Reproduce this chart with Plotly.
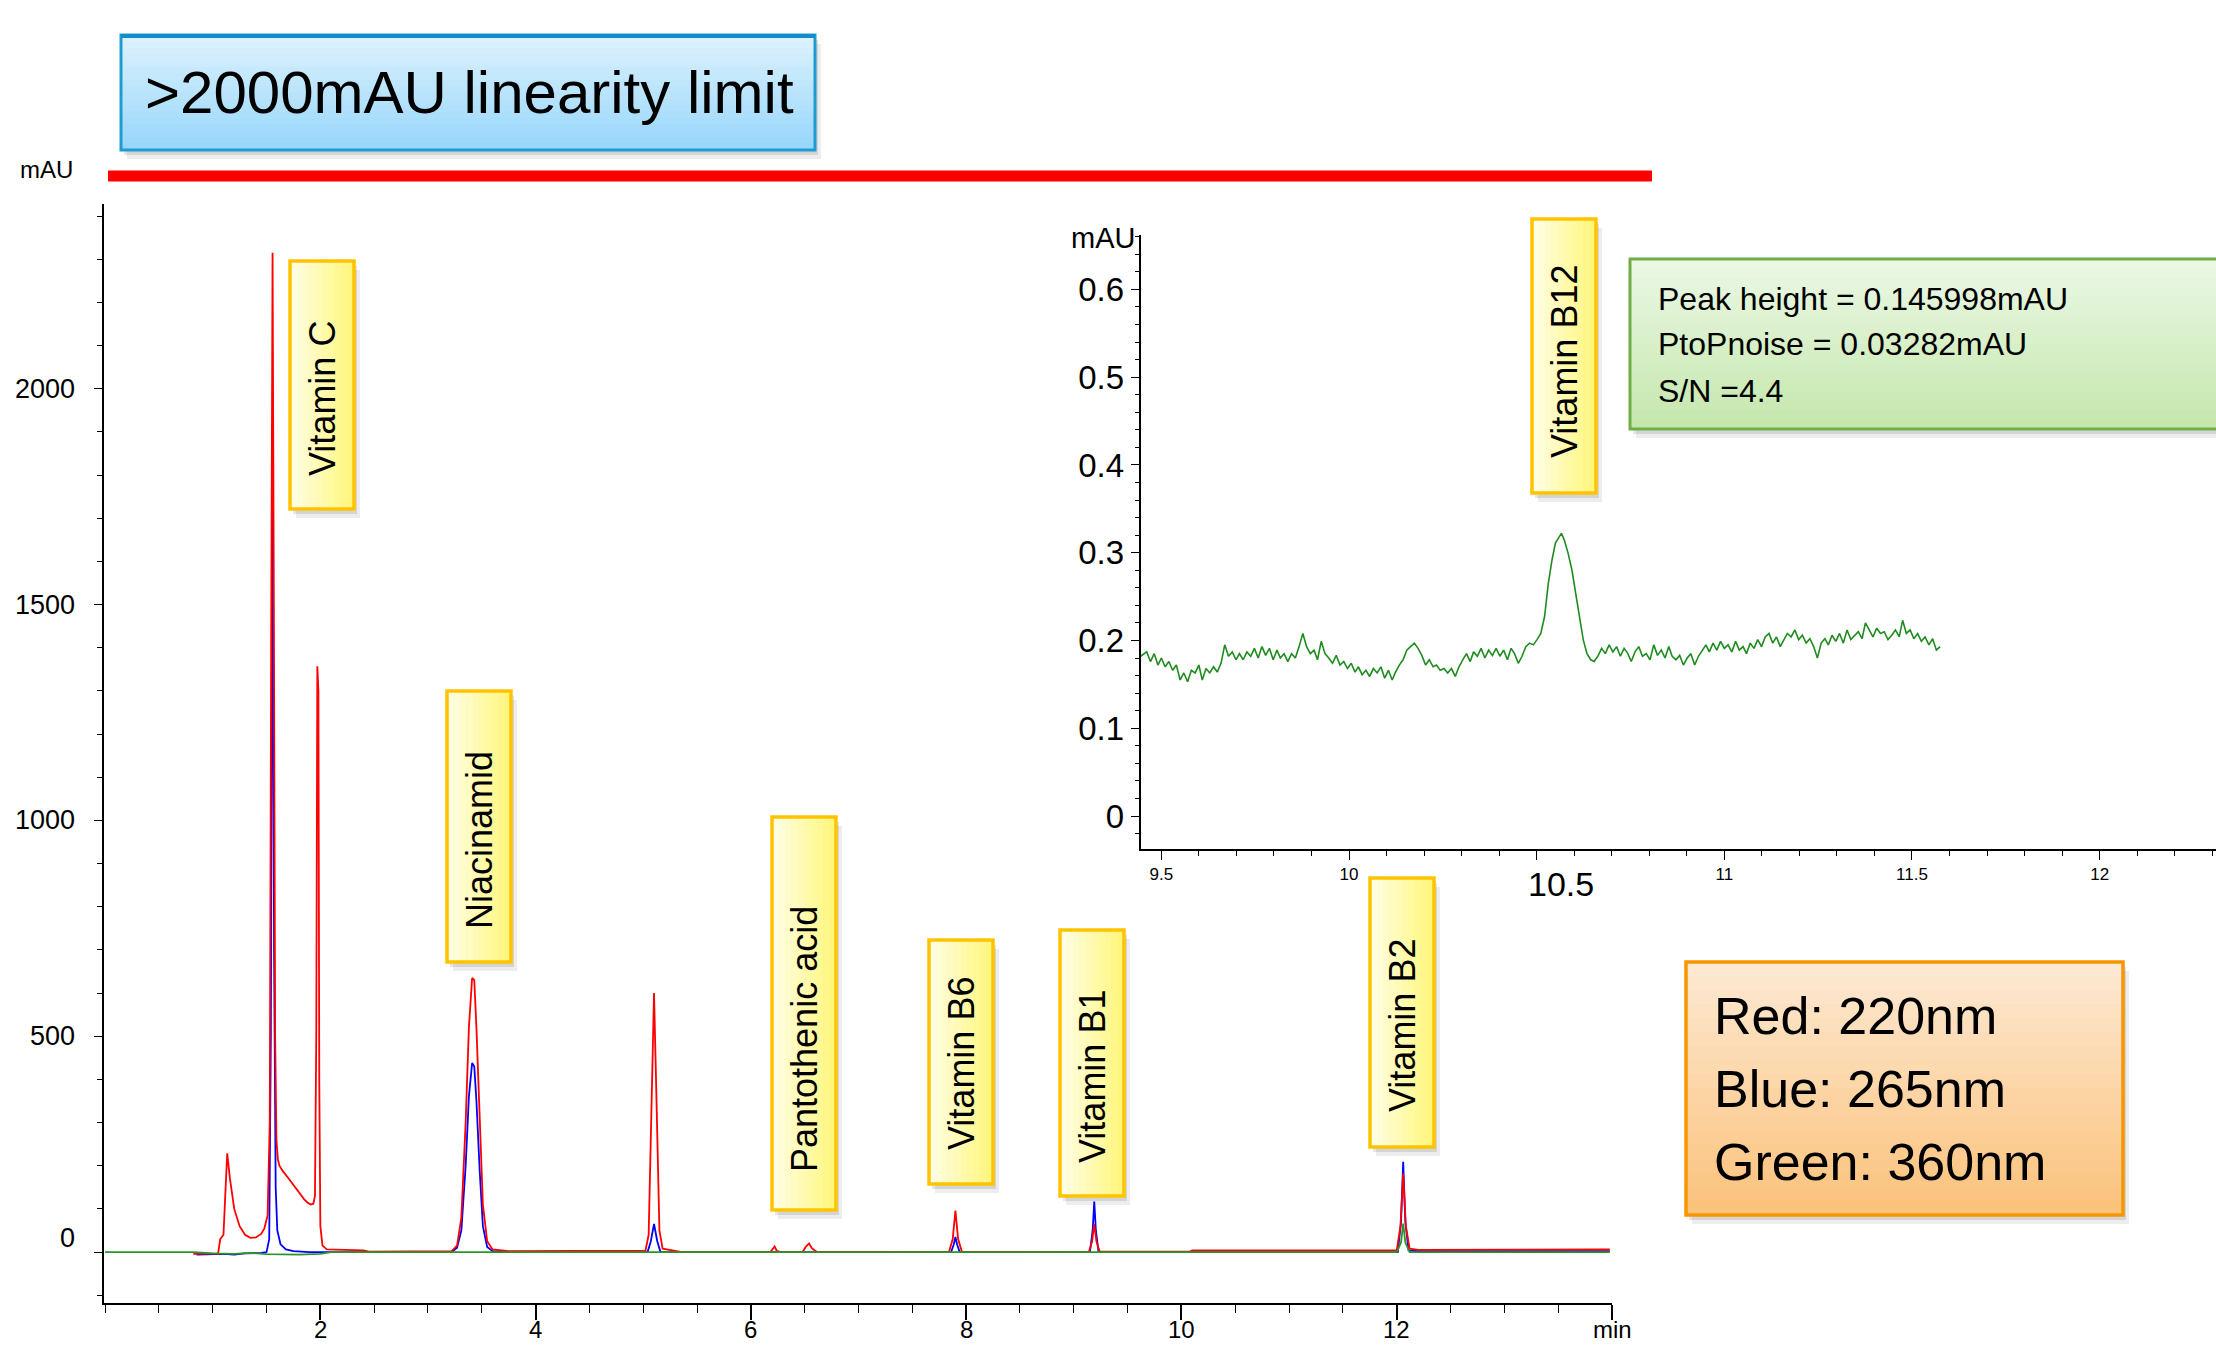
import plotly.graph_objects as go

W, H = 2216, 1345

# ---------------- data ----------------
# Red trace, 220 nm (time in min, absorbance in mAU)
red_t = [0.82, 1.05, 1.07, 1.10, 1.12, 1.135, 1.16, 1.20, 1.25, 1.30, 1.35, 1.40, 1.45, 1.48, 1.51,
         1.53, 1.543, 1.556, 1.568, 1.58, 1.592, 1.605, 1.62, 1.65, 1.70, 1.75, 1.80, 1.85, 1.88,
         1.91, 1.935, 1.95, 1.962, 1.972, 1.982, 1.99, 2.00, 2.02, 2.06, 2.40, 2.45,
         3.22, 3.27, 3.31, 3.35, 3.38, 3.41, 3.43, 3.45, 3.48, 3.51, 3.55, 3.60, 3.75,
         5.02, 5.05, 5.075, 5.10, 5.125, 5.15, 5.18, 5.30, 5.36,
         6.18, 6.20, 6.22, 6.24, 6.28, 6.48, 6.51, 6.54, 6.57, 6.61,
         7.84, 7.875, 7.90, 7.925, 7.96,
         9.14, 9.17, 9.19, 9.21, 9.24, 10.08, 10.10,
         12.00, 12.035, 12.06, 12.085, 12.12, 12.20, 13.98]
red_v = [-4, -3, 30, 40, 150, 229, 170, 100, 60, 40, 33, 34, 42, 55, 85,
         300, 1400, 2315, 1500, 500, 260, 215, 200, 188, 172, 155, 140, 122, 115,
         110, 112, 130, 500, 1357, 1300, 400, 60, 15, 6, 4, 1,
         2, 15, 80, 300, 520, 635, 630, 520, 300, 110, 25, 6, 2,
         3, 40, 330, 600, 330, 50, 8, 3, 0,
         0, 8, 13, 3, 0, 0, 12, 20, 8, 1,
         0, 30, 96, 30, 1,
         0, 25, 65, 25, 1, 1, 4,
         4, 60, 182, 60, 8, 5, 6]

# Blue trace, 265 nm
blue_t = [0.85, 1.10, 1.20, 1.30, 1.45, 1.50, 1.525, 1.54, 1.556, 1.57, 1.585, 1.60, 1.63, 1.68,
          1.75, 1.90, 3.22, 3.27, 3.31, 3.35, 3.38, 3.41, 3.43, 3.45, 3.48, 3.51, 3.55, 3.60, 3.75,
          5.04, 5.07, 5.10, 5.13, 5.16, 7.86, 7.885, 7.90, 7.915, 7.94,
          9.15, 9.175, 9.19, 9.205, 9.23, 12.01, 12.04, 12.06, 12.08, 12.11, 12.20, 13.98]
blue_v = [-6, -4, -6, -3, -2, 0, 30, 500, 1810, 700, 150, 50, 18, 6,
          2, 0, 0, 10, 50, 200, 360, 438, 430, 350, 190, 60, 12, 2, 0,
          0, 25, 65, 25, 0, 0, 18, 35, 18, 0,
          0, 50, 117, 50, 0, 0, 70, 209, 70, 4, 2, 2]

# Green trace, 360 nm
green_t = [0.0, 0.82, 1.0, 1.2, 1.35, 1.5, 1.8, 2.0, 2.1, 12.0, 12.04, 12.06, 12.08, 12.12, 13.98]
green_v = [0, 0, -3, -4, -2, -5, -6, -4, 0, 0, 22, 66, 22, 0, 0]

# Inset: 360 nm zoom around Vitamin B12
inset_t = [9.445, 9.461, 9.471, 9.481, 9.491, 9.500, 9.510, 9.520, 9.530, 9.540, 9.550, 9.560, 9.570,
           9.580, 9.590, 9.600, 9.609, 9.619, 9.629, 9.639, 9.649, 9.659, 9.669, 9.679, 9.689, 9.699,
           9.708, 9.718, 9.728, 9.738, 9.748, 9.758, 9.768, 9.778, 9.788, 9.798, 9.808, 9.817, 9.827,
           9.837, 9.847, 9.857, 9.867, 9.877, 9.887, 9.897, 9.907, 9.916, 9.926, 9.936, 9.946, 9.956,
           9.966, 9.976, 9.986, 9.996, 10.006, 10.016, 10.025, 10.035, 10.045, 10.055, 10.065, 10.075,
           10.085, 10.095, 10.105, 10.115, 10.124, 10.134, 10.144, 10.154, 10.164, 10.174, 10.184,
           10.194, 10.204, 10.214, 10.224, 10.233, 10.243, 10.253, 10.263, 10.273, 10.283, 10.293,
           10.303, 10.313, 10.323, 10.332, 10.342, 10.352, 10.362, 10.372, 10.382, 10.392, 10.402,
           10.412, 10.422, 10.432, 10.441, 10.451, 10.461, 10.471, 10.481, 10.491, 10.501, 10.511,
           10.521, 10.531, 10.541, 10.550, 10.560, 10.566, 10.574, 10.584, 10.594, 10.604, 10.614,
           10.624, 10.634, 10.644, 10.653, 10.663, 10.673, 10.683, 10.693, 10.703, 10.713, 10.723,
           10.733, 10.743, 10.752, 10.762, 10.772, 10.782, 10.792, 10.802, 10.812, 10.822, 10.832,
           10.842, 10.852, 10.861, 10.871, 10.881, 10.891, 10.901, 10.911, 10.921, 10.931, 10.941,
           10.951, 10.960, 10.970, 10.980, 10.990, 11.000, 11.010, 11.020, 11.030, 11.040, 11.050,
           11.059, 11.069, 11.079, 11.089, 11.099, 11.109, 11.119, 11.129, 11.139, 11.149, 11.159,
           11.168, 11.178, 11.188, 11.198, 11.208, 11.218, 11.228, 11.238, 11.248, 11.258, 11.268,
           11.277, 11.287, 11.297, 11.307, 11.317, 11.327, 11.337, 11.347, 11.357, 11.367, 11.376,
           11.386, 11.396, 11.406, 11.416, 11.426, 11.436, 11.446, 11.456, 11.466, 11.475, 11.485,
           11.495, 11.505, 11.515, 11.525, 11.535, 11.545, 11.555, 11.565, 11.575]
inset_v = [0.182, 0.187, 0.176, 0.185, 0.172, 0.180, 0.170, 0.176, 0.166, 0.172, 0.155, 0.163, 0.153,
           0.166, 0.163, 0.172, 0.155, 0.168, 0.163, 0.170, 0.164, 0.174, 0.195, 0.182, 0.187, 0.178,
           0.185, 0.178, 0.187, 0.182, 0.191, 0.180, 0.193, 0.183, 0.191, 0.178, 0.189, 0.180, 0.185,
           0.176, 0.185, 0.180, 0.193, 0.208, 0.193, 0.185, 0.189, 0.178, 0.199, 0.185, 0.180, 0.174,
           0.183, 0.172, 0.176, 0.168, 0.174, 0.164, 0.170, 0.161, 0.166, 0.159, 0.168, 0.163,
           0.170, 0.157, 0.166, 0.155, 0.164, 0.172, 0.178, 0.189, 0.193, 0.197, 0.191,
           0.183, 0.172, 0.178, 0.170, 0.172, 0.166, 0.168, 0.163, 0.168, 0.159, 0.170,
           0.178, 0.185, 0.176, 0.187, 0.182, 0.191, 0.180, 0.189, 0.183, 0.191, 0.182,
           0.189, 0.178, 0.191, 0.185, 0.174, 0.182, 0.193, 0.197, 0.195, 0.201, 0.208,
           0.227, 0.265, 0.292, 0.311, 0.318, 0.322, 0.314, 0.299, 0.280, 0.254, 0.223,
           0.201, 0.185, 0.178, 0.176, 0.182, 0.191, 0.185, 0.195, 0.187, 0.193, 0.182,
           0.191, 0.185, 0.176, 0.187, 0.193, 0.182, 0.185, 0.178, 0.195, 0.183, 0.189,
           0.180, 0.193, 0.182, 0.178, 0.183, 0.172, 0.180, 0.185, 0.172, 0.182, 0.189,
           0.195, 0.187, 0.197, 0.189, 0.199, 0.191, 0.195, 0.187, 0.199, 0.189, 0.193,
           0.185, 0.197, 0.191, 0.201, 0.193, 0.204, 0.208, 0.197, 0.204, 0.193, 0.201,
           0.208, 0.204, 0.212, 0.201, 0.206, 0.197, 0.202, 0.193, 0.180, 0.197, 0.202,
           0.195, 0.206, 0.199, 0.208, 0.197, 0.212, 0.201, 0.206, 0.210, 0.202, 0.220,
           0.212, 0.204, 0.214, 0.208, 0.210, 0.201, 0.206, 0.212, 0.204, 0.223, 0.208,
           0.212, 0.202, 0.208, 0.199, 0.204, 0.195, 0.202, 0.189, 0.193]

main_ytick_vals = [0, 500, 1000, 1500, 2000]
main_ytick_text = ["0", "500", "1000", "1500", "2000"]
main_xtick_vals = [2, 4, 6, 8, 10, 12, 14]
main_xtick_text = ["2", "4", "6", "8", "10", "12", "min"]
inset_ytick_vals = [0, 0.1, 0.2, 0.3, 0.4, 0.5, 0.6]
inset_ytick_text = ["0", "0.1", "0.2", "0.3", "0.4", "0.5", "0.6"]
inset_xtick_vals = [9.5, 10, 10.5, 11, 11.5, 12]
inset_xtick_text = ["9.5", "10", "", "11", "11.5", "12"]

peak_labels = ["Vitamin C", "Niacinamid", "Pantothenic acid", "Vitamin B6",
               "Vitamin B1", "Vitamin B2", "Vitamin B12"]
wavelength_lines = ["Red: 220nm", "Blue: 265nm", "Green: 360nm"]
sn_lines = ["Peak height = 0.145998mAU", "PtoPnoise = 0.03282mAU", "S/N =4.4"]
limit_text = ">2000mAU linearity limit"

# ---------------- layout geometry (pixels) ----------------
ARIAL = "Liberation Sans, Arial, sans-serif"


def px(x):
    return x / W


def py(y):
    return 1 - y / H


shapes = []
annotations = []


def rect(x0, y0, x1, y1, fill=None, line=None, lw=0):
    d = dict(type="rect", xref="paper", yref="paper",
             x0=px(x0), x1=px(x1), y0=py(y1), y1=py(y0), layer="above")
    d["fillcolor"] = fill if fill else "rgba(0,0,0,0)"
    d["line"] = dict(color=line if line else "rgba(0,0,0,0)", width=lw)
    shapes.append(d)


def mix(c0, c1, f):
    return "rgb(%d,%d,%d)" % tuple(round(a + (b - a) * f) for a, b in zip(c0, c1))


def grad_box(x0, y0, x1, y1, c0, c1, border, bw, vertical=True, n=18, shadow=True):
    if shadow:
        rect(x0 + 6, y0 + 9, x1 + 6, y1 + 9, fill="rgba(0,0,0,0.07)")
        rect(x0 + 3, y0 + 5, x1 + 3, y1 + 5, fill="rgba(0,0,0,0.10)")
    for i in range(n):
        f = (i + 0.5) / n
        if vertical:
            a = y0 + (y1 - y0) * i / n
            b = y0 + (y1 - y0) * (i + 1) / n + 0.6
            rect(x0, a, x1, b, fill=mix(c0, c1, f))
        else:
            a = x0 + (x1 - x0) * i / n
            b = x0 + (x1 - x0) * (i + 1) / n + 0.6
            rect(a, y0, b, y1, fill=mix(c0, c1, f))
    rect(x0, y0, x1, y1, line=border, lw=bw)


def text(x, y, s, size, family=ARIAL, xanchor="center", angle=0):
    annotations.append(dict(xref="paper", yref="paper", x=px(x), y=py(y), text=s,
                            showarrow=False, xanchor=xanchor, yanchor="middle",
                            textangle=angle, font=dict(family=family, size=size, color="black")))


# top linearity-limit callout
grad_box(121, 35, 815, 150, (222, 242, 253), (150, 214, 250), "rgb(30,155,210)", 3)
shapes.append(dict(type="line", xref="paper", yref="paper", x0=px(121), x1=px(815),
                   y0=py(36), y1=py(36), line=dict(color="rgb(20,140,200)", width=4)))
text(469, 92, limit_text, 60)

# red line marking the limit
shapes.append(dict(type="line", xref="paper", yref="paper", x0=px(108), x1=px(1652),
                   y0=py(176), y1=py(176), line=dict(color="#ff0000", width=11)))

# axis unit label
text(46, 170, "mAU", 24)

# peak label boxes: (x0, y0, x1, y1, text_cx, text_cy)
label_boxes = [(290, 261, 354, 509, 322, 399),
               (447, 691, 511, 962, 479, 840),
               (772, 817, 836, 1210, 804, 1039),
               (929, 940, 993, 1184, 961, 1064),
               (1060, 930, 1124, 1196, 1092, 1077),
               (1370, 878, 1434, 1147, 1402, 1026),
               (1532, 219, 1596, 493, 1564, 362)]
for lab, (x0, y0, x1, y1, cx, cy) in zip(peak_labels, label_boxes):
    grad_box(x0, y0, x1, y1, (255, 254, 232), (255, 246, 120), "rgb(255,195,0)", 3.5,
             vertical=False, n=10)
    text(cx, cy, lab, 36, angle=-90)

# S/N callout
grad_box(1630, 259, 2240, 429, (236, 248, 230), (196, 231, 172), "rgb(112,173,71)", 3)
for s, yy in zip(sn_lines, [299, 344, 391]):
    text(1656, yy, s, 32, xanchor="left")

# wavelength callout
grad_box(1686, 962, 2123, 1215, (253, 234, 212), (251, 193, 122), "rgb(247,150,0)", 3.5)
for s, yy in zip(wavelength_lines, [1016, 1089, 1162]):
    text(1712, yy, s, 52, xanchor="left")

# inset unit label and enlarged 10.5 label
text(1103, 238, "mAU", 29)
text(1561, 884, "10.5", 34)

# main-axis tick labels (placed along the data axes)
for v, s in zip(main_xtick_vals, main_xtick_text):
    annotations.append(dict(xref="x", yref="paper", x=v, y=py(1329), text=s, showarrow=False,
                            xanchor="center", yanchor="middle",
                            font=dict(family=ARIAL, size=24, color="black")))
for v, s in zip(main_ytick_vals, main_ytick_text):
    annotations.append(dict(xref="paper", yref="y", x=px(77), y=v, text=s, showarrow=False,
                            xanchor="right", yanchor="middle", yshift=14 if v == 0 else 0,
                            font=dict(family=ARIAL, size=27, color="black")))

# ---------------- figure ----------------
fig = go.Figure()
line_w = 1.8
fig.add_trace(go.Scatter(x=blue_t, y=blue_v, mode="lines", line=dict(color="#0000ff", width=line_w),
                         xaxis="x", yaxis="y", hoverinfo="skip"))
fig.add_trace(go.Scatter(x=red_t, y=red_v, mode="lines", line=dict(color="#ff0000", width=line_w),
                         xaxis="x", yaxis="y", hoverinfo="skip"))
fig.add_trace(go.Scatter(x=green_t, y=green_v, mode="lines", line=dict(color="#2a962a", width=line_w),
                         xaxis="x", yaxis="y", hoverinfo="skip"))
fig.add_trace(go.Scatter(x=inset_t, y=inset_v, mode="lines", line=dict(color="#1f8c1f", width=1.6),
                         xaxis="x2", yaxis="y2", hoverinfo="skip"))

common = dict(showgrid=False, zeroline=False, showline=True, linecolor="black", linewidth=2,
              automargin=False, tickcolor="black", ticks="outside", tickmode="array")

fig.update_layout(
    template="none",
    width=W, height=H, margin=dict(l=0, r=0, t=0, b=0, pad=0), autosize=False,
    paper_bgcolor="white", plot_bgcolor="rgba(0,0,0,0)", showlegend=False,
    xaxis=dict(common, domain=[px(104), px(1612)], range=[-0.01, 14.0], anchor="y",
               tickvals=main_xtick_vals, showticklabels=False,
               ticklen=15, tickwidth=1.5,
               minor=dict(dtick=0.5, tick0=0, ticks="outside", ticklen=8, tickwidth=1.3,
                          tickcolor="black", showgrid=False)),
    yaxis=dict(common, domain=[py(1303), py(203.6)], range=[-118, 2429], anchor="x",
               tickvals=main_ytick_vals, showticklabels=False,
               ticklen=8, tickwidth=1.3,
               minor=dict(dtick=100, tick0=0, ticks="outside", ticklen=5, tickwidth=1,
                          tickcolor="black", showgrid=False)),
    xaxis2=dict(common, domain=[px(1140.7), 1.0], range=[9.445, 12.31], anchor="y2",
                tickvals=inset_xtick_vals, ticktext=inset_xtick_text,
                ticklen=9, tickwidth=1.3,
                tickfont=dict(family=ARIAL, size=17, color="black"),
                minor=dict(dtick=0.1, tick0=9.5, ticks="outside", ticklen=5, tickwidth=1,
                           tickcolor="black", showgrid=False)),
    yaxis2=dict(common, domain=[py(849), py(235)], range=[-0.0376, 0.662], anchor="x2",
                tickvals=inset_ytick_vals, ticktext=inset_ytick_text,
                ticklen=8, tickwidth=1.3,
                tickfont=dict(family=ARIAL, size=33, color="black"),
                minor=dict(dtick=0.02, tick0=0, ticks="outside", ticklen=4, tickwidth=1,
                           tickcolor="black", showgrid=False)),
    shapes=shapes,
    annotations=annotations,
    hovermode=False,
)

fig.write_html("out.html")
